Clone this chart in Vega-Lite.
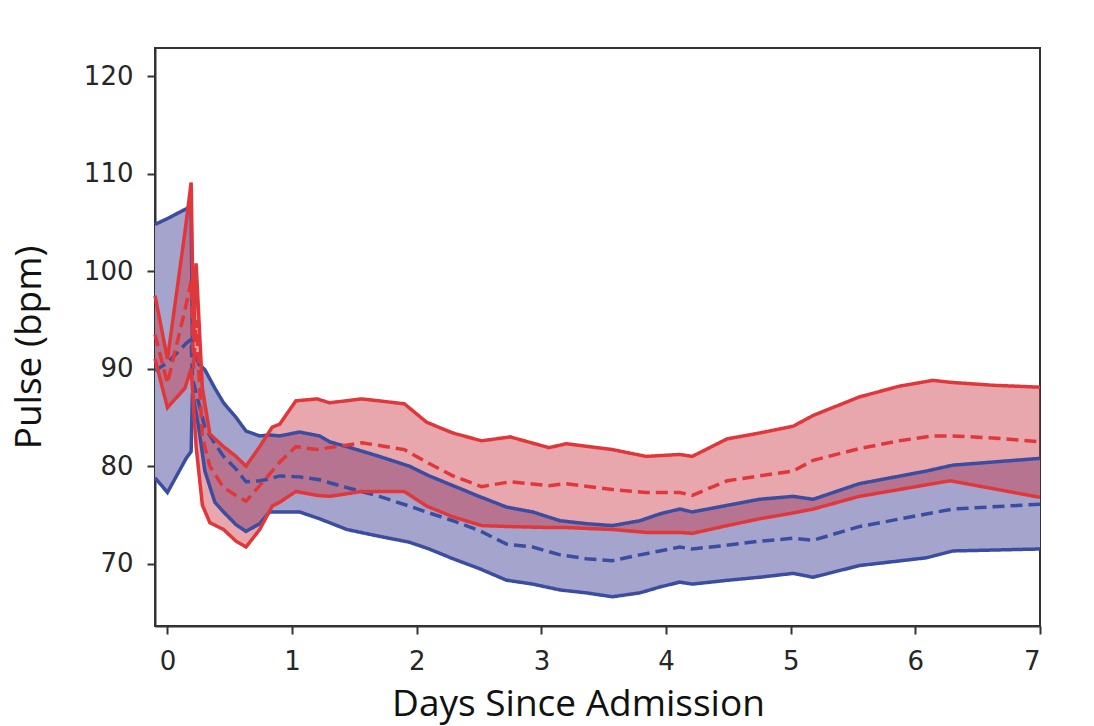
{
  "$schema": "https://vega.github.io/schema/vega-lite/v6.json",
  "width": 885,
  "height": 578,
  "autosize": "none",
  "padding": {"left": 155, "top": 48, "right": 54, "bottom": 100},
  "background": "white",
  "config": {
    "view": {"stroke": "#333333", "strokeWidth": 2},
    "axis": {
      "grid": false,
      "domainColor": "#333333",
      "domainWidth": 2,
      "tickColor": "#333333",
      "tickWidth": 2,
      "tickSize": 8,
      "labelFont": "DejaVu Sans",
      "labelFontSize": 26,
      "labelColor": "#262626",
      "labelPadding": 14,
      "titleFont": "Open Sans",
      "titleFontSize": 37,
      "titleFontWeight": "normal",
      "titleColor": "#111111"
    }
  },
  "data": {
    "values": [
      {"g": "blue", "day": -0.1, "lo": 78.8, "mean": 89.8, "hi": 104.8},
      {"g": "blue", "day": 0.0, "lo": 77.3, "mean": 90.6, "hi": 105.4},
      {"g": "blue", "day": 0.15, "lo": 80.8, "mean": 92.6, "hi": 106.4},
      {"g": "blue", "day": 0.19, "lo": 81.5, "mean": 93.0, "hi": 106.7},
      {"g": "blue", "day": 0.2, "lo": 87.5, "mean": 89.0, "hi": 92.0},
      {"g": "blue", "day": 0.25, "lo": 84.0, "mean": 86.5, "hi": 90.5},
      {"g": "blue", "day": 0.3, "lo": 79.5, "mean": 84.0, "hi": 89.9},
      {"g": "blue", "day": 0.38, "lo": 76.3, "mean": 82.3, "hi": 88.0},
      {"g": "blue", "day": 0.45, "lo": 75.3, "mean": 81.0, "hi": 86.5},
      {"g": "blue", "day": 0.55, "lo": 74.0, "mean": 79.7, "hi": 85.0},
      {"g": "blue", "day": 0.63, "lo": 73.3, "mean": 78.4, "hi": 83.6},
      {"g": "blue", "day": 0.74, "lo": 74.1, "mean": 78.5, "hi": 83.1},
      {"g": "blue", "day": 0.82, "lo": 75.3, "mean": 78.7, "hi": 83.2},
      {"g": "blue", "day": 0.9, "lo": 75.3, "mean": 79.0, "hi": 83.1},
      {"g": "blue", "day": 1.06, "lo": 75.3, "mean": 78.9, "hi": 83.5},
      {"g": "blue", "day": 1.22, "lo": 74.6, "mean": 78.6, "hi": 83.1},
      {"g": "blue", "day": 1.3, "lo": 74.2, "mean": 78.3, "hi": 82.5},
      {"g": "blue", "day": 1.44, "lo": 73.5, "mean": 77.8, "hi": 82.0},
      {"g": "blue", "day": 1.7, "lo": 72.8, "mean": 76.9, "hi": 81.0},
      {"g": "blue", "day": 1.94, "lo": 72.2, "mean": 75.9, "hi": 80.0},
      {"g": "blue", "day": 2.1, "lo": 71.5, "mean": 75.2, "hi": 79.0},
      {"g": "blue", "day": 2.29, "lo": 70.5, "mean": 74.4, "hi": 78.0},
      {"g": "blue", "day": 2.5, "lo": 69.5, "mean": 73.4, "hi": 76.9},
      {"g": "blue", "day": 2.72, "lo": 68.3, "mean": 72.0, "hi": 75.8},
      {"g": "blue", "day": 2.93, "lo": 67.9, "mean": 71.7, "hi": 75.3},
      {"g": "blue", "day": 3.15, "lo": 67.3, "mean": 70.9, "hi": 74.4},
      {"g": "blue", "day": 3.36, "lo": 67.0, "mean": 70.5, "hi": 74.1},
      {"g": "blue", "day": 3.57, "lo": 66.6, "mean": 70.3, "hi": 73.9},
      {"g": "blue", "day": 3.79, "lo": 67.0, "mean": 70.9, "hi": 74.4},
      {"g": "blue", "day": 3.95, "lo": 67.6, "mean": 71.3, "hi": 75.1},
      {"g": "blue", "day": 4.11, "lo": 68.1, "mean": 71.7, "hi": 75.6},
      {"g": "blue", "day": 4.21, "lo": 67.9, "mean": 71.5, "hi": 75.3},
      {"g": "blue", "day": 4.5, "lo": 68.3, "mean": 71.9, "hi": 76.0},
      {"g": "blue", "day": 4.75, "lo": 68.6, "mean": 72.3, "hi": 76.6},
      {"g": "blue", "day": 5.02, "lo": 69.0, "mean": 72.6, "hi": 76.9},
      {"g": "blue", "day": 5.18, "lo": 68.6, "mean": 72.4, "hi": 76.6},
      {"g": "blue", "day": 5.55, "lo": 69.8, "mean": 73.8, "hi": 78.2},
      {"g": "blue", "day": 6.09, "lo": 70.6, "mean": 75.1, "hi": 79.5},
      {"g": "blue", "day": 6.3, "lo": 71.3, "mean": 75.6, "hi": 80.1},
      {"g": "blue", "day": 7.0, "lo": 71.5, "mean": 76.1, "hi": 80.8},

      {"g": "red", "day": -0.1, "lo": 91.0, "mean": 93.5, "hi": 97.5},
      {"g": "red", "day": 0.0, "lo": 86.0, "mean": 88.5, "hi": 91.0},
      {"g": "red", "day": 0.14, "lo": 88.0, "mean": 96.0, "hi": 104.0},
      {"g": "red", "day": 0.19, "lo": 90.0, "mean": 99.0, "hi": 109.1},
      {"g": "red", "day": 0.21, "lo": 86.0, "mean": 90.0, "hi": 93.0},
      {"g": "red", "day": 0.23, "lo": 82.0, "mean": 95.0, "hi": 100.8},
      {"g": "red", "day": 0.28, "lo": 76.0, "mean": 83.0, "hi": 88.0},
      {"g": "red", "day": 0.34, "lo": 74.2, "mean": 80.0, "hi": 83.3},
      {"g": "red", "day": 0.45, "lo": 73.5, "mean": 77.8, "hi": 82.0},
      {"g": "red", "day": 0.55, "lo": 72.3, "mean": 77.0, "hi": 81.0},
      {"g": "red", "day": 0.63, "lo": 71.7, "mean": 76.4, "hi": 80.0},
      {"g": "red", "day": 0.74, "lo": 73.5, "mean": 78.0, "hi": 82.0},
      {"g": "red", "day": 0.84, "lo": 75.9, "mean": 79.5, "hi": 84.0},
      {"g": "red", "day": 0.9, "lo": 76.3, "mean": 80.4, "hi": 84.3},
      {"g": "red", "day": 1.03, "lo": 77.4, "mean": 82.0, "hi": 86.7},
      {"g": "red", "day": 1.2, "lo": 77.0, "mean": 81.7, "hi": 86.9},
      {"g": "red", "day": 1.3, "lo": 76.9, "mean": 81.9, "hi": 86.5},
      {"g": "red", "day": 1.56, "lo": 77.4, "mean": 82.4, "hi": 86.9},
      {"g": "red", "day": 1.9, "lo": 77.4, "mean": 81.7, "hi": 86.4},
      {"g": "red", "day": 2.08, "lo": 75.9, "mean": 80.4, "hi": 84.5},
      {"g": "red", "day": 2.29, "lo": 74.8, "mean": 79.0, "hi": 83.4},
      {"g": "red", "day": 2.52, "lo": 73.9, "mean": 77.9, "hi": 82.6},
      {"g": "red", "day": 2.75, "lo": 73.8, "mean": 78.4, "hi": 83.0},
      {"g": "red", "day": 3.06, "lo": 73.7, "mean": 78.0, "hi": 81.9},
      {"g": "red", "day": 3.2, "lo": 73.7, "mean": 78.2, "hi": 82.3},
      {"g": "red", "day": 3.57, "lo": 73.5, "mean": 77.6, "hi": 81.7},
      {"g": "red", "day": 3.84, "lo": 73.2, "mean": 77.3, "hi": 81.0},
      {"g": "red", "day": 4.11, "lo": 73.2, "mean": 77.3, "hi": 81.2},
      {"g": "red", "day": 4.21, "lo": 73.1, "mean": 77.0, "hi": 81.0},
      {"g": "red", "day": 4.49, "lo": 73.9, "mean": 78.5, "hi": 82.8},
      {"g": "red", "day": 4.75, "lo": 74.6, "mean": 79.0, "hi": 83.4},
      {"g": "red", "day": 5.02, "lo": 75.2, "mean": 79.5, "hi": 84.1},
      {"g": "red", "day": 5.18, "lo": 75.6, "mean": 80.6, "hi": 85.2},
      {"g": "red", "day": 5.55, "lo": 76.9, "mean": 81.8, "hi": 87.1},
      {"g": "red", "day": 5.87, "lo": 77.6, "mean": 82.6, "hi": 88.2},
      {"g": "red", "day": 6.14, "lo": 78.2, "mean": 83.1, "hi": 88.8},
      {"g": "red", "day": 6.28, "lo": 78.5, "mean": 83.1, "hi": 88.6},
      {"g": "red", "day": 6.62, "lo": 77.7, "mean": 82.9, "hi": 88.3},
      {"g": "red", "day": 7.0, "lo": 76.8, "mean": 82.5, "hi": 88.1}
    ]
  },
  "encoding": {
    "x": {
      "field": "day",
      "type": "quantitative",
      "title": "Days Since Admission",
      "scale": {"domain": [-0.1, 7], "nice": false, "zero": false},
      "axis": {"values": [0, 1, 2, 3, 4, 5, 6, 7], "titlePadding": 12, "titleX": 423}
    }
  },
  "layer": [
    {
      "transform": [{"filter": "datum.g === 'blue'"}],
      "mark": {"type": "area", "color": "#a4a4cd", "opacity": 1},
      "encoding": {
        "y": {
          "field": "lo",
          "type": "quantitative",
          "title": "Pulse (bpm)",
          "scale": {"domain": [63.6, 122.9], "nice": false, "zero": false},
          "axis": {"values": [70, 80, 90, 100, 110, 120], "titlePadding": 35, "titleY": 299}
        },
        "y2": {"field": "hi"}
      }
    },
    {
      "transform": [{"filter": "datum.g === 'red'"}],
      "mark": {"type": "area", "color": "#cc3a4a", "opacity": 0.45},
      "encoding": {
        "y": {"field": "lo", "type": "quantitative"},
        "y2": {"field": "hi"}
      }
    },
    {
      "transform": [
        {"filter": "datum.g === 'blue'"},
        {"fold": ["lo", "mean", "hi"], "as": ["stat", "bpm"]}
      ],
      "mark": {"type": "line", "color": "#3b4da0", "strokeWidth": 3.5},
      "encoding": {
        "y": {"field": "bpm", "type": "quantitative"},
        "detail": {"field": "stat"},
        "strokeDash": {
          "field": "stat",
          "scale": {"domain": ["lo", "mean", "hi"], "range": [[1, 0], [12, 6], [1, 0]]},
          "legend": null
        }
      }
    },
    {
      "transform": [
        {"filter": "datum.g === 'red'"},
        {"fold": ["lo", "mean", "hi"], "as": ["stat", "bpm"]}
      ],
      "mark": {"type": "line", "color": "#e0383a", "strokeWidth": 3.5},
      "encoding": {
        "y": {"field": "bpm", "type": "quantitative"},
        "detail": {"field": "stat"},
        "strokeDash": {
          "field": "stat",
          "scale": {"domain": ["lo", "mean", "hi"], "range": [[1, 0], [12, 6], [1, 0]]},
          "legend": null
        }
      }
    }
  ]
}
